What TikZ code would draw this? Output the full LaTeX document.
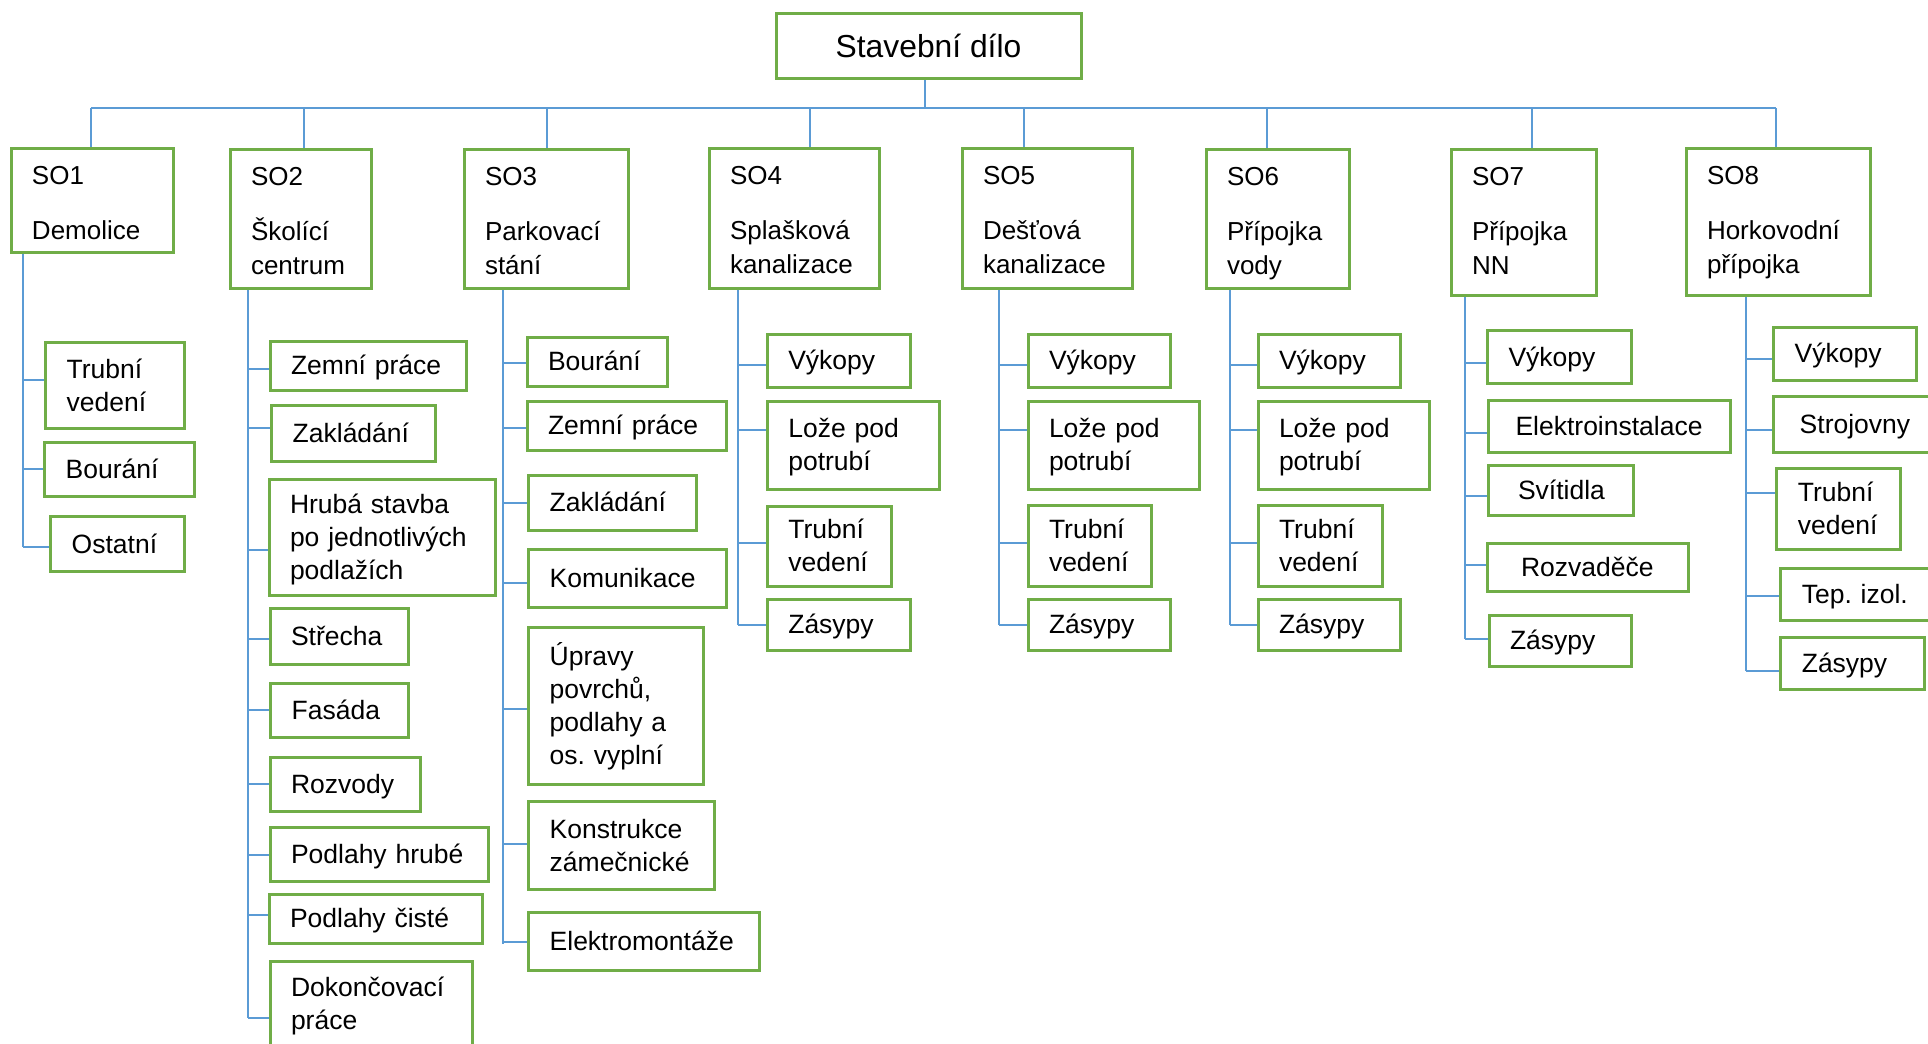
\documentclass[tikz,border=0pt]{standalone}
\usepackage{fontspec}
\setmainfont{Liberation Sans}
\definecolor{boxgreen}{HTML}{70AD47}
\definecolor{linkblue}{HTML}{5B9BD5}

\tikzset{
  rootst/.style={draw=boxgreen, line width=1.5pt, inner sep=0pt,
    font=\fontsize{15.9}{19}\selectfont, text height=11.4pt, text depth=0pt},
  objst/.style={draw=boxgreen, line width=1.5pt, inner xsep=10.5pt, inner ysep=0pt,
    align=left, font=\fontsize{13}{17}\selectfont},
  workst/.style={draw=boxgreen, line width=1.5pt, inner xsep=10.5pt, inner ysep=0pt,
    align=left, font=\fontsize{13.25}{16.5}\selectfont, text height=9pt},
  busline/.style={draw=linkblue, line width=1.3pt},
  stem/.style={draw=linkblue, line width=0.8pt},
  link/.style={draw=linkblue, line width=1pt},
}

% building object: name, x1, y1, x2, y2, code, title (coordinates in px)
\newcommand\objbox[7]{%
  \pgfmathsetlengthmacro\bxW{(#4-#2)*0.5pt}%
  \pgfmathsetlengthmacro\bxH{(#5-#3)*0.5pt}%
  \pgfmathsetlengthmacro\bxT{(#4-#2-42)*0.5pt}%
  \pgfmathsetlengthmacro\bxD{(#5-#3-36)*0.5pt}%
  \node[objst, minimum width=\bxW, minimum height=\bxH, text width=\bxT,
        text height=18pt, text depth=\bxD] (#1) at ({(#2+#4)/2},{(#3+#5)/2}) {#6\\[10.5pt]#7};}

% work item: [options], name, x1, y1, x2, y2, number of lines, text
\newcommand\workbox[8][]{%
  \pgfmathsetlengthmacro\bxW{(#5-#3)*0.5pt}%
  \pgfmathsetlengthmacro\bxH{(#6-#4)*0.5pt}%
  \pgfmathsetlengthmacro\bxT{(#5-#3-42)*0.5pt}%
  \pgfmathsetlengthmacro\bxD{(#7-1)*16.5pt}%
  \node[workst, minimum width=\bxW, minimum height=\bxH, text width=\bxT,
        text depth=\bxD, #1] (#2) at ({(#3+#5)/2},{(#4+#6)/2}) {#8};}

% branch from a trunk to a work item at height y
\newcommand\branch[3]{\draw[link] (#1 |- 0,#3) -- (#2.west |- 0,#3);}

\begin{document}
\begin{tikzpicture}[x=0.5pt, y=-0.5pt]
\fill[white] (0,0) rectangle (1928,1044);
\useasboundingbox (0,0) rectangle (1928,1044);

% top level
\node[rootst, minimum width=152.5pt, minimum height=32.6pt] (root) at (928.5,46.1) {Stavební dílo};

% building objects
\objbox{so1}{11}{148}{173}{252}{SO1}{Demolice}
\objbox{so2}{230}{149}{371}{288}{SO2}{Školící\\centrum}
\objbox{so3}{464}{149}{628}{288}{SO3}{Parkovací\\stání}
\objbox{so4}{709}{148}{879}{288}{SO4}{Splašková\\kanalizace}
\objbox{so5}{962}{148}{1132}{288}{SO5}{Dešťová\\kanalizace}
\objbox{so6}{1206}{149}{1349}{288}{SO6}{Přípojka\\vody}
\objbox{so7}{1451}{149}{1596}{295}{SO7}{Přípojka\\NN}
\objbox{so8}{1686}{148}{1870}{295}{SO8}{Horkovodní\\přípojka}

% bus from the top level to the objects
\coordinate (busL) at (91,108);
\coordinate (busR) at (1776,108);
\draw[busline] (busL) -- (busR);
\draw[stem] (root.south -| 925,0) -- (busL -| 925,0);
\draw[stem] (busL -| 91,0) -- (so1.north -| 91,0);
\draw[stem] (busL -| 304,0) -- (so2.north -| 304,0);
\draw[stem] (busL -| 547,0) -- (so3.north -| 547,0);
\draw[stem] (busL -| 810,0) -- (so4.north -| 810,0);
\draw[stem] (busL -| 1024,0) -- (so5.north -| 1024,0);
\draw[stem] (busL -| 1267,0) -- (so6.north -| 1267,0);
\draw[stem] (busL -| 1532,0) -- (so7.north -| 1532,0);
\draw[stem] (busL -| 1776,0) -- (so8.north -| 1776,0);

% SO1
\workbox{a1}{45.7}{342.7}{184}{428.6}{2}{Trubní\\vedení}
\workbox{a2}{44.7}{442}{194}{496}{1}{Bourání}
\workbox{a3}{50.7}{516.8}{184}{571.4}{1}{Ostatní}
\coordinate (t1) at (22.7,546.7);
\draw[link] (so1.south -| t1) -- (t1);
\branch{t1}{a1}{379.7}
\branch{t1}{a2}{469.4}
\branch{t1}{a3}{546.7}

% SO2
\workbox{b1}{270}{341.8}{466}{390}{1}{Zemní práce}
\workbox{b2}{271.7}{405.8}{435.7}{461.8}{1}{Zakládání}
\workbox{b3}{269}{479.4}{495.7}{595}{3}{Hrubá stavba\\po jednotlivých\\podlažích}
\workbox{b4}{270}{608.4}{408.7}{664}{1}{Střecha}
\workbox{b5}{270.7}{683.4}{408.7}{737.5}{1}{Fasáda}
\workbox{b6}{270}{757.4}{420}{811.5}{1}{Rozvody}
\workbox{b7}{270}{827.6}{488}{881.3}{1}{Podlahy hrubé}
\workbox{b8}{269}{894}{482.3}{943.9}{1}{Podlahy čisté}
\workbox[text height=2pt]{b9}{270}{961}{472}{1060}{2}{Dokončovací\\práce}
\coordinate (t2) at (247.7,1018.4);
\draw[link] (so2.south -| t2) -- (t2);
\branch{t2}{b1}{368.8}
\branch{t2}{b2}{428}
\branch{t2}{b3}{549.6}
\branch{t2}{b4}{638.8}
\branch{t2}{b5}{709.5}
\branch{t2}{b6}{783.5}
\branch{t2}{b7}{855}
\branch{t2}{b8}{915.4}
\branch{t2}{b9}{1018.4}

% SO3
\workbox{c1}{527}{337}{667.7}{386.4}{1}{Bourání}
\workbox{c2}{527}{401}{726}{450}{1}{Zemní práce}
\workbox{c3}{528.7}{475}{696}{530}{1}{Zakládání}
\workbox{c4}{528.7}{549.6}{726.7}{607.5}{1}{Komunikace}
\workbox{c5}{528.7}{627}{703}{784.5}{4}{Úpravy\\povrchů,\\podlahy a\\os.\ vyplní}
\workbox{c6}{528.7}{801.5}{714}{889.8}{2}{Konstrukce\\zámečnické}
\workbox{c7}{528.7}{912}{759.3}{970}{1}{Elektromontáže}
\coordinate (t3) at (502.7,944);
\draw[link] (so3.south -| t3) -- (t3);
\branch{t3}{c1}{362.6}
\branch{t3}{c2}{427.6}
\branch{t3}{c3}{502.6}
\branch{t3}{c4}{583.3}
\branch{t3}{c5}{709}
\branch{t3}{c6}{844.2}
\branch{t3}{c7}{941.5}

% SO4
\workbox{d1}{767.3}{334}{910.3}{387.3}{1}{Výkopy}
\workbox{d2}{767.3}{401}{939}{489.3}{2}{Lože pod\\potrubí}
\workbox{d3}{767.3}{506}{891}{586.6}{2}{Trubní\\vedení}
\workbox{d4}{767.3}{599}{910.3}{650.2}{1}{Zásypy}
\coordinate (t4) at (737.7,625);
\draw[link] (so4.south -| t4) -- (t4);
\branch{t4}{d1}{364.5}
\branch{t4}{d2}{429.5}
\branch{t4}{d3}{543}
\branch{t4}{d4}{625}

% SO5
\workbox{e1}{1028}{334.3}{1170.8}{387}{1}{Výkopy}
\workbox{e2}{1028}{401}{1199.9}{489.3}{2}{Lože pod\\potrubí}
\workbox{e3}{1028}{505.7}{1151.8}{586.7}{2}{Trubní\\vedení}
\workbox{e4}{1028}{599}{1170.8}{650.7}{1}{Zásypy}
\coordinate (t5) at (999,624.7);
\draw[link] (so5.south -| t5) -- (t5);
\branch{t5}{e1}{365}
\branch{t5}{e2}{430}
\branch{t5}{e3}{542.7}
\branch{t5}{e4}{624.7}

% SO6
\workbox{f1}{1258}{334.3}{1400.9}{387}{1}{Výkopy}
\workbox{f2}{1258}{401}{1429.6}{489.3}{2}{Lože pod\\potrubí}
\workbox{f3}{1258}{505.7}{1382}{586.7}{2}{Trubní\\vedení}
\workbox{f4}{1258}{599}{1400.9}{650.7}{1}{Zásypy}
\coordinate (t6) at (1229.7,624.7);
\draw[link] (so6.south -| t6) -- (t6);
\branch{t6}{f1}{365}
\branch{t6}{f2}{430}
\branch{t6}{f3}{542.7}
\branch{t6}{f4}{624.7}

% SO7
\workbox{g1}{1487.5}{330.3}{1631}{383.7}{1}{Výkopy}
\workbox{g2}{1488}{400.7}{1730.6}{452.7}{1}{\hspace*{3.25pt}Elektroinstalace}
\workbox{g3}{1488}{465.3}{1633}{515.7}{1}{\hspace*{4.5pt}Svítidla}
\workbox{g4}{1487}{543.3}{1688}{591.7}{1}{\hspace*{6.5pt}Rozvaděče}
\workbox{g5}{1489}{615}{1631.6}{666.7}{1}{Zásypy}
\coordinate (t7) at (1465,639.3);
\draw[link] (so7.south -| t7) -- (t7);
\branch{t7}{g1}{362.7}
\branch{t7}{g2}{432.7}
\branch{t7}{g3}{495.7}
\branch{t7}{g4}{564.7}
\branch{t7}{g5}{639.3}

% SO8
\workbox{h1}{1773.7}{327.3}{1916.5}{380.3}{1}{Výkopy}
\workbox{h2}{1773.7}{396.3}{1945}{452.7}{1}{\hspace*{2.5pt}Strojovny}
\workbox{h3}{1776.8}{468}{1900.7}{549.3}{2}{Trubní\\vedení}
\workbox{h4}{1780.8}{568.3}{1945}{620}{1}{Tep.\ izol.}
\workbox{h5}{1780.8}{637.3}{1924.2}{689.3}{1}{Zásypy}
\coordinate (t8) at (1745.8,670.7);
\draw[link] (so8.south -| t8) -- (t8);
\branch{t8}{h1}{358.7}
\branch{t8}{h2}{430}
\branch{t8}{h3}{492.7}
\branch{t8}{h4}{595.7}
\branch{t8}{h5}{670.7}
\end{tikzpicture}
\end{document}
